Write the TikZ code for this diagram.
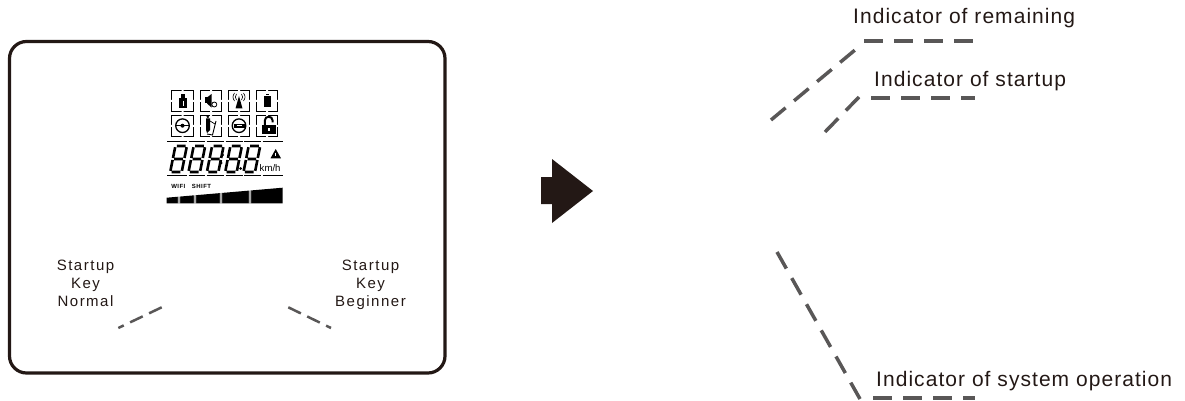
\documentclass[tikz,border=0pt]{standalone}
\usepackage{fontspec}
\setmainfont{Liberation Sans}
\newfontfamily\labfont[LetterSpace=5]{Liberation Sans}
\newfontfamily\keyfont[LetterSpace=10]{Liberation Sans}
\newfontfamily\tinyfont[LetterSpace=8]{Liberation Sans}
\definecolor{ink}{HTML}{231815}
\definecolor{leadgray}{HTML}{595757}
\tikzset{
  lead/.style={draw=leadgray,line width=3.5pt,dash pattern=on 19pt off 11pt},
  leadsmall/.style={draw=leadgray,line width=2.5pt,dash pattern=on 14pt off 7pt},
  lab/.style={font=\labfont\fontsize{21pt}{24pt}\selectfont,text=ink,inner sep=0,anchor=base west},
  keylab/.style={font=\keyfont\fontsize{15pt}{18pt}\selectfont,text=ink,align=center,inner sep=0},
  icon/.style={draw=black,line width=1.1pt,minimum width=21.5pt,minimum height=21.5pt,inner sep=0},
  rule/.style={draw=black,line width=1.3pt},
  seg/.style={draw=black,line width=2.6pt},
  tinylab/.style={inner sep=0,font=\tinyfont\bfseries\fontsize{6pt}{6pt}\selectfont}
}
\begin{document}
\begin{tikzpicture}[x=1pt,y=-1pt]
\useasboundingbox (0,0) rectangle (1185,401);
% panel
\draw[line width=3.2pt,draw=ink,rounded corners=17pt] (9.5,41.5) rectangle (445,373);
% icon boxes
\foreach \n/\x/\y in {ia/182.5/101,ib/211/101,ic/239/101,id/267/101,ie/182.5/126,if/211/126,ig/239/126,ih/267/126}{
  \node[icon] (\n) at (\x,\y) {};
  \fill[white] (\x-12,\y-1) rectangle (\x-10,\y+1) (\x+10,\y-1) rectangle (\x+12,\y+1)
               (\x-1,\y-12) rectangle (\x+1,\y-10) (\x-1,\y+10) rectangle (\x+1,\y+12);
}
% USB
\fill (179.3,98.3) rectangle (186.7,108.5);
\fill (180.7,94.3) rectangle (185.3,98.3);
\draw[white,line width=.5pt] (183,101) -- (183,106);
% speaker
\fill (205,97.5) rectangle (207.5,103.5);
\fill (207,97.5) -- (211.5,94) -- (211.5,107.5) -- (207,103.5) -- cycle;
\draw[line width=.8pt] (214.3,104.5) circle (2.5pt);
% antenna
\fill (239,96) -- (242.5,108.5) -- (235.5,108.5) -- cycle;
\draw[line width=.6pt]
  (236.5,94) .. controls (235,96) and (235,98) .. (236.5,100)
  (241.5,94) .. controls (243,96) and (243,98) .. (241.5,100)
  (234.5,93) .. controls (232.5,96) and (232.5,98) .. (234.5,101)
  (243.5,93) .. controls (245.5,96) and (245.5,98) .. (243.5,101);
% battery
\fill (264,96) rectangle (270.7,107.5);
\fill (265.8,94) rectangle (268.9,95.4);
% steering wheel 1
\draw[line width=1.3pt] (182.5,125.7) circle (6.8pt);
\draw[line width=1.3pt] (175.7,125.7) -- (189.3,125.7);
\fill (182.5,125.7) circle (2pt);
% rider
\fill (207.8,116.8) circle (1.4pt);
\fill (206,118.5) -- (210,118.5) -- (210,130) -- (207,133) -- (206,130) -- cycle;
\draw[line width=.9pt] (216,121) -- (212.5,135) -- (207,134);
\draw[line width=.7pt] (210,121) -- (215,124);
% steering wheel 2
\draw[line width=1.3pt] (239,125.7) circle (6.8pt);
\fill (233.5,123.7) rectangle (244.5,127.7);
\draw[line width=.6pt,white] (236.5,125.7) -- (241.5,125.7);
% open lock
\fill (261.5,125) rectangle (276,134);
\draw[line width=2pt] (264.8,125) -- (264.8,120.5)
  .. controls (264.8,115.5) and (272.6,115.5) .. (272.6,120.5) -- (272.6,122.5);
\fill[white] (267.6,128) rectangle (269.9,131);
% rules
\foreach \a/\b in {167/186.5,188.5/205,206.5/224,225.5/243,244/261,262.5/283}{
  \draw[rule] (\a,141.7) -- (\b,141.7);
  \draw[rule] (\a,175.7) -- (\b,175.7);
}
% seven-segment digits
\foreach \dx in {175.4,193.7,212.1,230.4,248.7}{
  \begin{scope}[shift={(\dx,146)},xslant=0.2]
    \draw[seg] (1.4,0) -- (10.1,0) (1.4,13) -- (10.1,13) (1.4,26) -- (10.1,26)
      (0,1.2) -- (0,12) (11.5,1.2) -- (11.5,12) (0,14) -- (0,24.8) (11.5,14) -- (11.5,24.8);
  \end{scope}
}
\fill (222.8,155) circle (1.3pt) (221.2,163) circle (1.3pt) (240.6,168.5) circle (1.4pt);
\node[inner sep=0,font=\fontsize{9.6pt}{10pt}\selectfont,anchor=base west] (kmh) at (259.5,171) {km/h};
\fill (275.7,149) -- (270.5,158.3) -- (281,158.3) -- cycle;
\draw[white,line width=.6pt] (275.7,152.5) -- (275.7,155.5);
\node[tinylab] (wf) at (178.3,186.8) {WIFI};
\node[tinylab] (sf) at (201.5,186.8) {SHIFT};
% level bar
\fill (166.7,197.7) -- (282.7,187.7) -- (282.7,203.3) -- (166.7,203.3) -- cycle;
\foreach \x/\t in {179/198,195/196.5,221/194,250/191.5}{
  \fill[white] (\x-1.2,\t-2) rectangle (\x-.4,203.5) (\x+.4,\t-2) rectangle (\x+1.2,203.5);
}
% key labels
\node[keylab] (k1) at (85.5,285.5) {Startup\\Key\\Normal\strut};
\node[keylab] (k2) at (370.5,285.5) {Startup\\Key\\Beginner\strut};
\coordinate (k1a) at (161.7,307.3); \coordinate (k1b) at (118.3,328);
\coordinate (k2a) at (288.3,307.3); \coordinate (k2b) at (331,328);
\draw[leadsmall] (k1a) -- (k1b);
\draw[leadsmall] (k2a) -- (k2b);
% arrow
\fill[ink] (541,177) -- (552,177) -- (552,159) -- (593,191) -- (552,223) -- (552,204) -- (541,204) -- cycle;
% indicator labels
\node[lab] (t1) at (853,23.5) {Indicator of remaining};
\node[lab] (t2) at (874,86.5) {Indicator of startup};
\node[lab] (t3) at (876,386) {Indicator of system operation};
\coordinate (a1) at (771,120); \coordinate (a2) at (855,50); \coordinate (a3) at (864,41); \coordinate (a4) at (973,41);
\coordinate (b1) at (825,132); \coordinate (b2) at (859,97); \coordinate (b3) at (871,98); \coordinate (b4) at (975,98);
\coordinate (c1) at (777,252); \coordinate (c2) at (860,399); \coordinate (c3) at (873,398); \coordinate (c4) at (975,398);
\draw[lead] (a1) -- (a2);
\draw[lead] (a3) -- (a4);
\draw[lead] (b1) -- (b2);
\draw[lead] (b3) -- (b4);
\draw[lead] (c1) -- (c2);
\draw[lead] (c3) -- (c4);
\end{tikzpicture}
\end{document}
